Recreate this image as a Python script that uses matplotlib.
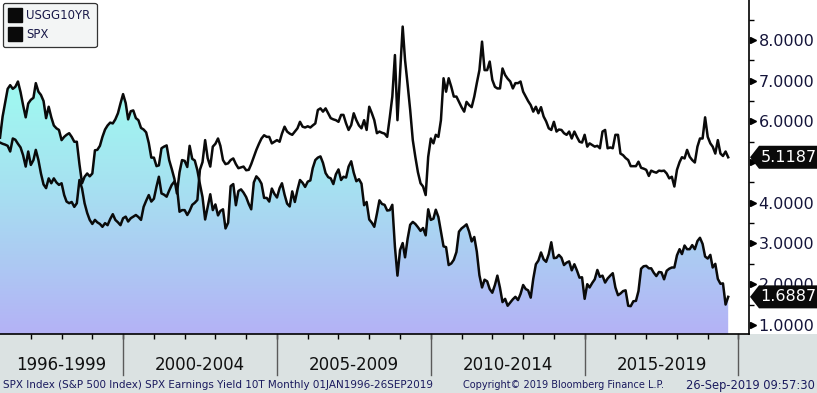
import numpy as np
import pandas as pd
import datetime as dt
import matplotlib
matplotlib.use('Agg')
import matplotlib.pyplot as plt
import matplotlib.dates as mdates
import matplotlib.transforms as mtrans
from matplotlib.lines import Line2D
from matplotlib.patches import Rectangle, Polygon
from matplotlib.colors import LinearSegmentedColormap

# ---------------- data (monthly, Jan 1996 - Sep 2019) ----------------
start_month = '1996-01-01'
usgg10yr = [
    5.60, 6.12, 6.45, 6.80, 6.89, 6.80, 6.85, 6.98, 6.72, 6.40, 6.10, 6.44,
    6.53, 6.58, 6.94, 6.73, 6.65, 6.50, 6.08, 6.36, 6.10, 5.90, 5.83, 5.79,
    5.54, 5.62, 5.67, 5.71, 5.62, 5.50, 5.50, 4.95, 4.48, 4.64, 4.72, 4.65,
    4.72, 5.29, 5.30, 5.40, 5.62, 5.80, 5.90, 5.97, 5.95, 6.05, 6.20, 6.44,
    6.67, 6.45, 6.05, 6.25, 6.27, 6.08, 6.03, 5.84, 5.80, 5.73, 5.47, 5.11,
    5.11, 4.90, 4.92, 5.34, 5.38, 5.41, 5.05, 4.83, 4.59, 4.23, 4.75, 5.05,
    5.03, 4.88, 5.40, 5.08, 5.04, 4.80, 4.46, 4.14, 3.59, 3.89, 4.21, 3.82,
    3.96, 3.69, 3.80, 3.84, 3.37, 3.51, 4.41, 4.46, 3.94, 4.29, 4.33, 4.25,
    4.14, 3.97, 3.84, 4.50, 4.65, 4.58, 4.47, 4.12, 4.12, 4.03, 4.35, 4.22,
    4.13, 4.36, 4.48, 4.20, 3.98, 3.91, 4.28, 4.02, 4.32, 4.56, 4.49, 4.39,
    4.52, 4.55, 4.85, 5.05, 5.11, 5.14, 4.98, 4.73, 4.63, 4.60, 4.46, 4.70,
    4.82, 4.56, 4.64, 4.62, 4.89, 5.02, 4.74, 4.53, 4.58, 4.47, 3.94, 4.02,
    3.59, 3.51, 3.41, 3.73, 4.06, 3.97, 3.95, 3.81, 3.82, 3.95, 2.92, 2.21,
    2.84, 3.01, 2.66, 3.12, 3.46, 3.53, 3.48, 3.40, 3.31, 3.38, 3.20, 3.84,
    3.58, 3.61, 3.83, 3.65, 3.29, 2.93, 2.91, 2.47, 2.51, 2.60, 2.79, 3.29,
    3.37, 3.42, 3.47, 3.29, 3.05, 3.16, 2.80, 2.22, 1.92, 2.11, 2.07, 1.88,
    1.79, 1.98, 2.21, 1.91, 1.56, 1.64, 1.47, 1.55, 1.63, 1.69, 1.61, 1.76,
    1.98, 1.88, 1.85, 1.67, 2.13, 2.49, 2.58, 2.78, 2.61, 2.55, 2.74, 3.03,
    2.64, 2.65, 2.72, 2.65, 2.47, 2.53, 2.56, 2.34, 2.49, 2.34, 2.16, 2.17,
    1.64, 2.00, 1.92, 2.03, 2.12, 2.35, 2.18, 2.21, 2.04, 2.14, 2.21, 2.27,
    1.92, 1.73, 1.77, 1.83, 1.85, 1.47, 1.46, 1.58, 1.59, 1.83, 2.38, 2.44,
    2.45, 2.39, 2.39, 2.28, 2.20, 2.30, 2.29, 2.12, 2.33, 2.38, 2.41, 2.41,
    2.71, 2.86, 2.74, 2.95, 2.86, 2.86, 2.96, 2.86, 3.06, 3.14, 2.99, 2.68,
    2.63, 2.72, 2.41, 2.50, 2.13, 2.01, 2.02, 1.50, 1.6887,
]
spx_earnings_yield = [
    5.48, 5.45, 5.43, 5.40, 5.26, 5.58, 5.55, 5.45, 5.36, 5.17, 4.89, 5.26,
    4.93, 5.05, 5.30, 5.05, 4.72, 4.45, 4.36, 4.60, 4.48, 4.60, 4.50, 4.44,
    4.48, 4.19, 4.03, 3.99, 4.02, 3.90, 3.99, 4.56, 4.35, 3.99, 3.75, 3.58,
    3.48, 3.58, 3.52, 3.48, 3.41, 3.50, 3.45, 3.60, 3.72, 3.58, 3.52, 3.45,
    3.62, 3.66, 3.54, 3.62, 3.66, 3.70, 3.65, 3.58, 3.90, 4.05, 4.19, 4.03,
    4.10, 4.40, 4.64, 4.23, 4.20, 4.15, 4.30, 4.44, 4.52, 4.40, 3.78, 3.82,
    3.82, 3.70, 3.80, 3.95, 4.00, 4.07, 4.81, 5.00, 5.54, 5.10, 4.89, 5.38,
    5.45, 5.58, 5.40, 5.05, 4.95, 4.97, 5.05, 5.09, 4.95, 4.85, 4.87, 4.89,
    4.80, 4.81, 4.95, 5.13, 5.30, 5.45, 5.58, 5.66, 5.62, 5.62, 5.46, 5.50,
    5.54, 5.50, 5.70, 5.87, 5.75, 5.70, 5.67, 5.75, 5.83, 5.99, 5.87, 5.85,
    5.88, 5.85, 5.90, 5.95, 6.28, 6.32, 6.24, 6.32, 6.20, 6.08, 6.05, 6.03,
    5.99, 6.16, 6.16, 5.95, 5.79, 5.91, 6.20, 6.03, 5.90, 5.83, 6.03, 5.79,
    6.36, 6.20, 6.03, 5.71, 5.75, 5.72, 5.70, 5.62, 6.10, 6.61, 7.63, 6.03,
    7.18, 8.33, 7.51, 6.90, 6.28, 5.54, 5.13, 4.75, 4.48, 4.40, 4.19, 5.13,
    5.58, 5.46, 5.67, 5.62, 6.03, 7.06, 6.73, 7.06, 6.85, 6.61, 6.61, 6.48,
    6.35, 6.24, 6.48, 6.40, 6.35, 6.61, 6.94, 7.26, 7.96, 7.26, 7.26, 7.47,
    7.02, 6.85, 6.81, 6.81, 7.30, 7.14, 7.05, 6.98, 6.81, 6.94, 6.94, 6.98,
    6.73, 6.61, 6.50, 6.40, 6.24, 6.36, 6.20, 6.35, 6.12, 6.00, 5.83, 5.79,
    5.99, 5.75, 5.80, 5.79, 5.71, 5.67, 5.75, 5.58, 5.75, 5.62, 5.50, 5.48,
    5.67, 5.38, 5.46, 5.42, 5.38, 5.40, 5.34, 5.75, 5.79, 5.34, 5.36, 5.34,
    5.67, 5.67, 5.21, 5.17, 5.10, 5.05, 4.90, 4.90, 4.90, 5.01, 4.86, 4.84,
    4.81, 4.66, 4.79, 4.76, 4.74, 4.79, 4.78, 4.79, 4.72, 4.60, 4.64, 4.40,
    4.81, 5.00, 5.12, 5.09, 5.30, 5.13, 5.05, 4.99, 5.38, 5.58, 5.58, 6.10,
    5.62, 5.46, 5.38, 5.21, 5.54, 5.21, 5.15, 5.26, 5.1187,
]
series_names = ['USGG10YR', 'SPX']
period_labels = ['1996-1999', '2000-2004', '2005-2009', '2010-2014', '2015-2019']
period_bounds = [1996, 2000, 2005, 2010, 2015, 2020]
y_ticks = [1, 2, 3, 4, 5, 6, 7, 8]
footer_left = 'SPX Index (S&P 500 Index) SPX Earnings Yield 10T Monthly 01JAN1996-26SEP2019'
footer_mid = 'Copyright\u00a9 2019 Bloomberg Finance L.P.'
footer_right = '26-Sep-2019 09:57:30'

# ---------------- figure ----------------
W, H = 817, 393
fig = plt.figure(figsize=(W / 100, H / 100), dpi=100)
fig.patch.set_facecolor('white')
band_h = 59
fig.add_artist(Rectangle((0, 0), 1, band_h / H, transform=fig.transFigure,
                         facecolor='#dbe2e2', edgecolor='none', zorder=0))

ax_w = 749
ax = fig.add_axes([0, band_h / H, ax_w / W, (H - band_h) / H])
ax.set_facecolor('white')

dates = pd.date_range(start_month, periods=len(usgg10yr), freq='MS')
xnum = mdates.date2num(dates)
x0 = mdates.date2num(dt.datetime(1996, 1, 1))
x1 = mdates.date2num(dt.datetime(2020, 5, 5))
y0, y1 = 0.776, 8.983

# gradient fill under the 10Y yield (lavender at bottom -> aqua at top)
cmap = LinearSegmentedColormap.from_list(
    'bbg', [(0.0, '#b4b2f6'), (0.2, '#adc8f3'), (0.45, '#a6e2f1'),
            (0.7, '#a0f6f0'), (1.0, '#9ffcf0')])
grad = np.linspace(0, 1, 256).reshape(-1, 1)
im = ax.imshow(grad, extent=[x0, x1, y0, y1], origin='lower', aspect='auto',
               cmap=cmap, zorder=1, interpolation='bilinear')
poly = ax.fill_between(xnum, usgg10yr, y0, facecolor='none', edgecolor='none')
im.set_clip_path(poly.get_paths()[0], transform=ax.transData)

ax.plot(xnum, usgg10yr, color='#0a0a0a', lw=1.8, zorder=3)
ax.plot(xnum, spx_earnings_yield, color='#0a0a0a', lw=1.8, zorder=3)

ax.set_xlim(x0, x1)
ax.set_ylim(y0, y1)

for s in ['left', 'top']:
    ax.spines[s].set_visible(False)
ax.spines['right'].set_color('black')
ax.spines['right'].set_linewidth(1.2)
ax.spines['bottom'].set_color('black')
ax.spines['bottom'].set_linewidth(1.2)

# x ticks: yearly small ticks, no labels
year_ticks = [mdates.date2num(dt.datetime(y, 1, 1)) for y in range(1997, 2021)]
ax.set_xticks(year_ticks)
ax.set_xticklabels([])
ax.tick_params(axis='x', length=3.5, width=1, color='black', direction='out')

# y axis on right
ax.yaxis.tick_right()
ax.set_yticks(y_ticks)
ax.set_yticklabels([f'{v:.4f}' for v in y_ticks])
ax.set_yticks([v + 0.5 for v in y_ticks], minor=True)
ax.tick_params(axis='y', which='major', length=0, pad=7, labelsize=11.5,
               labelcolor='#14143a')
ax.tick_params(axis='y', which='minor', length=3.5, width=1, color='black',
               direction='out')
trans_r = mtrans.blended_transform_factory(ax.transAxes, ax.transData)
for v in y_ticks:
    ax.plot([1.0 + 4.0 / ax_w], [v], marker='>', markersize=5, color='black',
            transform=trans_r, clip_on=False, zorder=5)

# period dividers and labels in the bottom band
trans_b = mtrans.blended_transform_factory(ax.transData, ax.transAxes)
ax_h = H - band_h
for yb in period_bounds[1:]:
    xb = mdates.date2num(dt.datetime(yb, 1, 1))
    ax.add_line(Line2D([xb, xb], [0, -(375 - 334) / ax_h], transform=trans_b,
                       color='#5a5a5a', lw=1, clip_on=False))
for i, lab in enumerate(period_labels):
    a = mdates.date2num(dt.datetime(period_bounds[i], 1, 1))
    b = mdates.date2num(dt.datetime(period_bounds[i + 1], 1, 1))
    ax.text((a + b) / 2, -(365 - 334) / ax_h, lab, transform=trans_b,
            ha='center', va='center', fontsize=12, color='#111111', clip_on=False)

# legend
handles = [Line2D([], [], marker='s', color='#0a0a0a', linestyle='none', markersize=9.5)
           for _ in series_names]
leg = ax.legend(handles, series_names, loc='upper left',
                bbox_to_anchor=(3 / ax_w, 1 - 3 / ax_h), borderaxespad=0,
                frameon=True, fancybox=True, facecolor='#f3f5f5', edgecolor='#333333',
                framealpha=1, fontsize=8.5, handlelength=1.0, handletextpad=0.4,
                labelspacing=0.45, borderpad=0.55, labelcolor='#1a1a4a')
leg.get_frame().set_linewidth(0.9)
leg.set_zorder(6)

# last-value tags
fig.canvas.draw()
for series in [spx_earnings_yield, usgg10yr]:
    last = series[-1]
    _, yc = ax.transData.transform((xnum[-1], last))
    xl = ax_w + 1
    hh = 11.5
    pts = [(xl, yc), (xl + 9, yc - hh), (W, yc - hh), (W, yc + hh), (xl + 9, yc + hh)]
    fig.add_artist(Polygon(pts, closed=True, transform=None, facecolor='#0a0a0a',
                           edgecolor='none', zorder=10))
    fig.text((xl + 10 + (W - xl - 10) / 2) / W, yc / H, f'{last:.4f}', ha='center',
             va='center', color='white', fontsize=11.5, zorder=11)

# footer
fy = (H - 385) / H
fig.text(3 / W, fy, footer_left, ha='left', va='center', fontsize=7.5, color='#1a1a5e')
fig.text(463 / W, fy, footer_mid, ha='left', va='center', fontsize=7.0, color='#1a1a5e')
fig.text(815 / W, fy, footer_right, ha='right', va='center', fontsize=8.3, color='#1a1a5e')

fig.savefig('out.png', dpi=100)
